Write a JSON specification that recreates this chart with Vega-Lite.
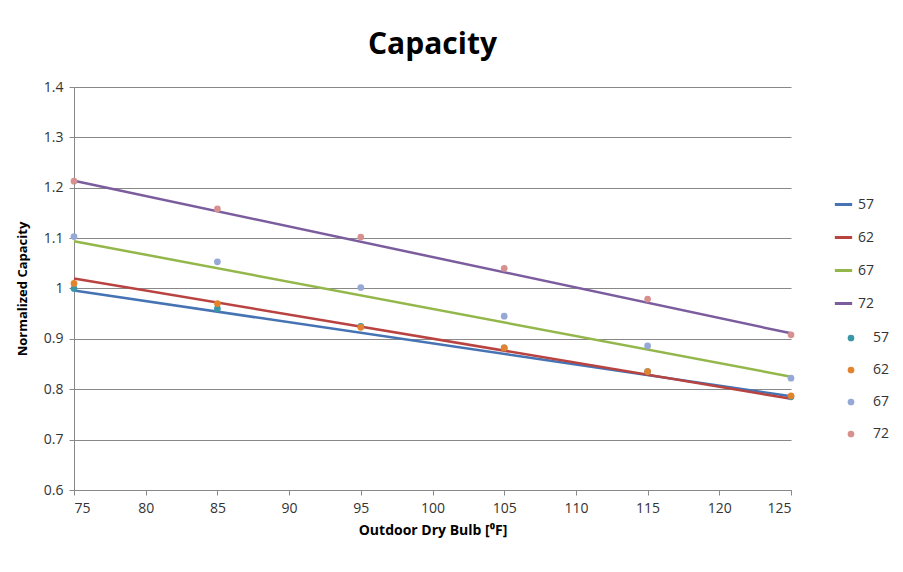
{
"$schema":"https://vega.github.io/schema/vega-lite/v6.json",
"autosize":{"type":"none"},
"width":717,"height":403,
"padding":{"left":74,"top":87,"right":112,"bottom":82},
"background":"white",
"title":{"text":"Capacity","fontSize":30,"font":"Open Sans","fontWeight":"bold","anchor":"middle","offset":20,"color":"#000"},
"config":{"view":{"stroke":null},"font":"Open Sans"},
"datasets":{
"lines":[
{"x":75,"y":0.996,"s":"57"},{"x":125,"y":0.786,"s":"57"},
{"x":75,"y":1.02,"s":"62"},{"x":125,"y":0.781,"s":"62"},
{"x":75,"y":1.094,"s":"67"},{"x":125,"y":0.825,"s":"67"},
{"x":75,"y":1.214,"s":"72"},{"x":125,"y":0.911,"s":"72"}],
"pts":[
{"x":75,"y":1.0,"g":"57"},{"x":85,"y":0.96,"g":"57"},{"x":95,"y":0.925,"g":"57"},{"x":105,"y":0.882,"g":"57"},{"x":115,"y":0.835,"g":"57"},{"x":125,"y":0.785,"g":"57"},
{"x":75,"y":1.01,"g":"62"},{"x":85,"y":0.97,"g":"62"},{"x":95,"y":0.923,"g":"62"},{"x":105,"y":0.882,"g":"62"},{"x":115,"y":0.835,"g":"62"},{"x":125,"y":0.787,"g":"62"},
{"x":75,"y":1.103,"g":"67"},{"x":85,"y":1.053,"g":"67"},{"x":95,"y":1.002,"g":"67"},{"x":105,"y":0.945,"g":"67"},{"x":115,"y":0.886,"g":"67"},{"x":125,"y":0.822,"g":"67"},
{"x":75,"y":1.213,"g":"72"},{"x":85,"y":1.158,"g":"72"},{"x":95,"y":1.102,"g":"72"},{"x":105,"y":1.04,"g":"72"},{"x":115,"y":0.979,"g":"72"},{"x":125,"y":0.908,"g":"72"}]
},
"layer":[
{"data":{"name":"lines"},"mark":{"type":"line","strokeWidth":2.5},
"encoding":{
"x":{"field":"x","type":"quantitative","scale":{"domain":[75,125],"nice":false,"zero":false},
"axis":{"values":[75,80,85,90,95,100,105,110,115,120,125],"grid":false,"title":"Outdoor Dry Bulb [⁰F]","titleFontSize":14,"titleFontWeight":"bold","titleColor":"#000","labelFontSize":14,"labelColor":"#333","domainColor":"#888","tickColor":"#888","labelPadding":6,"titlePadding":8}},
"y":{"field":"y","type":"quantitative","scale":{"domain":[0.6,1.4],"nice":false,"zero":false},
"axis":{"values":[0.6,0.7,0.8,0.9,1,1.1,1.2,1.3,1.4],"labelExpr":"datum.value == 1 ? '1' : format(datum.value, '.1f')","gridColor":"#888","domainColor":"#888","tickColor":"#888","title":"Normalized Capacity","titleFontSize":13,"titleFontWeight":"bold","titleColor":"#000","labelFontSize":14,"labelColor":"#333","labelPadding":6,"titlePadding":14}},
"color":{"field":"s","type":"nominal","scale":{"domain":["57","62","67","72"],"range":["#4573B3","#B94340","#93B74A","#7B5D9E"]},
"legend":{"title":null,"orient":"none","legendX":759,"legendY":107,"symbolType":"stroke","symbolStrokeWidth":3,"symbolSize":300,"labelFontSize":14,"labelColor":"#333","rowPadding":15,"labelOffset":4}}}},
{"data":{"name":"pts"},"mark":{"type":"circle","size":45,"opacity":1},
"encoding":{
"x":{"field":"x","type":"quantitative"},
"y":{"field":"y","type":"quantitative"},
"color":{"field":"g","type":"nominal","scale":{"domain":["57","62","67","72"],"range":["#3A97A8","#E2842E","#95A8D6","#D6918F"]},
"legend":{"title":null,"orient":"none","legendX":770,"legendY":244,"symbolType":"circle","symbolSize":45,"labelFontSize":14,"labelColor":"#333","rowPadding":18,"labelOffset":15}}}}
],
"resolve":{"scale":{"color":"independent"}}
}
